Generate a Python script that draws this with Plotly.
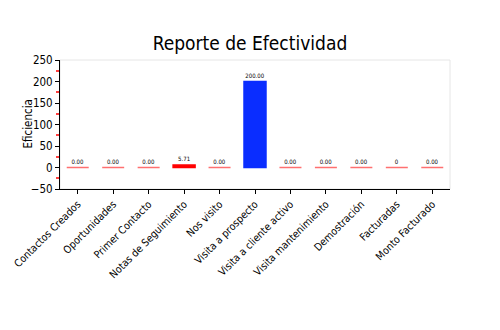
import plotly.graph_objects as go

categorias = ["Contactos Creados", "Oportunidades", "Primer Contacto", "Notas de Seguimiento",
              "Nos visito", "Visita a prospecto", "Visita a cliente activo",
              "Visita mantenimiento", "Demostración", "Facturadas", "Monto Facturado"]
valores = [0, 0, 0, 5.71, 0, 200, 0, 0, 0, 0, 0]
etiquetas = ["0.00", "0.00", "0.00", "5.71", "0.00", "200.00", "0.00", "0.00", "0.00", "0", "0.00"]
colores = ["#ff0000", "#ff0000", "#ff0000", "#ff0000", "#ff0000", "#0a2dff",
           "#ff0000", "#ff0000", "#ff0000", "#ff0000", "#ff0000"]
bordes = ["#ff7070" if v == 0 else c for v, c in zip(valores, colores)]

fuente = "DejaVu Sans Condensed, Liberation Sans Narrow, sans-serif"

fig = go.Figure(go.Bar(
    x=categorias, y=valores, text=etiquetas, textposition="outside",
    textfont=dict(size=6, color="#000"), cliponaxis=False,
    marker=dict(color=colores, line=dict(color=bordes, width=1.5)),
    width=0.62,
))

fig.update_layout(
    width=500, height=330,
    margin=dict(l=60, r=50, t=60, b=141),
    paper_bgcolor="white", plot_bgcolor="white",
    font=dict(family=fuente, color="#000"),
    title=dict(text="Reporte de Efectividad", x=0.5, xanchor="center", y=0.87, yanchor="middle",
               font=dict(size=19, family=fuente)),
    showlegend=False,
    shapes=[dict(type="rect", xref="paper", yref="paper", x0=0, x1=1, y0=0, y1=1,
                 line=dict(color="#e6e6e6", width=1), layer="below")],
    annotations=[dict(text="Eficiencia", xref="paper", yref="paper", x=0, y=0.5,
                      xanchor="center", yanchor="middle", xshift=-33, textangle=-90,
                      showarrow=False, font=dict(size=11.5))],
)
fig.update_yaxes(
    range=[-50, 250], dtick=50, showgrid=False, zeroline=False,
    showline=True, linecolor="#000", linewidth=1,
    ticks="outside", ticklen=4, tickcolor="#000", tickfont=dict(size=11.5),
    minor=dict(dtick=25, ticks="outside", ticklen=3, tickwidth=1.5, tickcolor="#ff4040"),
)
fig.update_xaxes(
    showgrid=False, showline=True, linecolor="#000", linewidth=1,
    ticks="outside", ticklen=4, tickcolor="#000", tickangle=-45,
    tickfont=dict(size=10.5),
)

fig.write_html("out.html")
